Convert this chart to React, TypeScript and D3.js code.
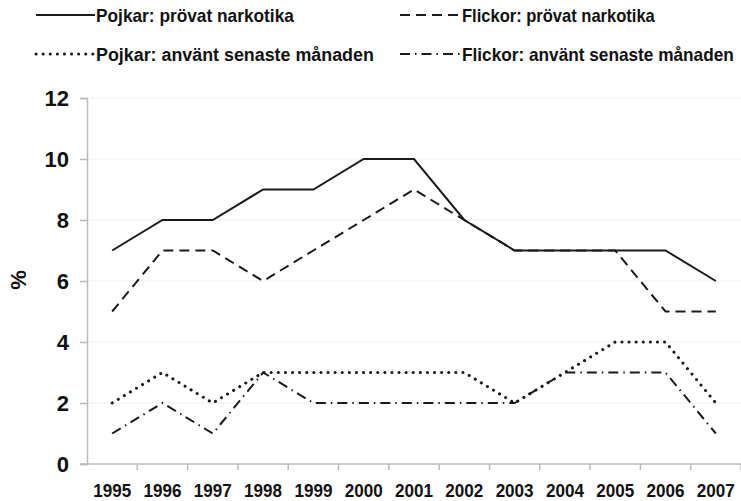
import React, { useRef, useEffect } from 'react';
import * as d3 from 'd3';

const years = ['1995', '1996', '1997', '1998', '1999', '2000', '2001', '2002', '2003', '2004', '2005', '2006', '2007'];
const pojkarProvat = [7, 8, 8, 9, 9, 10, 10, 8, 7, 7, 7, 7, 6];
const flickorProvat = [5, 7, 7, 6, 7, 8, 9, 8, 7, 7, 7, 5, 5];
const pojkarAnvant = [2, 3, 2, 3, 3, 3, 3, 3, 2, 3, 4, 4, 2];
const flickorAnvant = [1, 2, 1, 3, 2, 2, 2, 2, 2, 3, 3, 3, 1];
const yTicks = [0, 2, 4, 6, 8, 10, 12];

const seriesNames = [
  'Pojkar: prövat narkotika',
  'Flickor: prövat narkotika',
  'Pojkar: använt senaste månaden',
  'Flickor: använt senaste månaden',
];

const App: React.FC = () => {
  const svgRef = useRef<SVGSVGElement | null>(null);

  useEffect(() => {
    if (!svgRef.current) return;
    const width = 741;
    const height = 501;
    const left = 87;
    const right = 741;
    const top = 98;
    const bottom = 464;

    const svg = d3.select(svgRef.current);
    svg.selectAll('*').remove();
    svg.attr('width', width).attr('height', height);

    const font = 'Liberation Sans, Arial, sans-serif';

    // line styles for each series
    const styles = [
      { dash: null, cap: 'butt', w: 2 },
      { dash: '10,6', cap: 'butt', w: 2 },
      { dash: '0.1,7', cap: 'round', w: 3 },
      { dash: '10,5,1.5,5', cap: 'butt', w: 2 },
    ];

    const x = d3.scaleBand<string>().domain(years).range([left, right]);
    const y = d3.scaleLinear().domain([0, 12]).range([bottom, top]);

    // squeeze a text horizontally to a given width (the source font is narrow)
    const squeeze = (sel: d3.Selection<SVGTextElement, any, any, any>, tx: number, ty: number, w: number) => {
      sel.each(function () {
        const natural = (this as SVGTextElement).getComputedTextLength();
        const sx = natural > 0 ? w / natural : 1;
        d3.select(this).attr('transform', `translate(${tx},${ty}) scale(${sx},1)`);
      });
    };

    // faint gridlines
    svg.append('g')
      .selectAll('line')
      .data(yTicks.filter(d => d > 0))
      .enter()
      .append('line')
      .attr('x1', left)
      .attr('x2', right)
      .attr('y1', d => y(d))
      .attr('y2', d => y(d))
      .attr('stroke', '#efefef')
      .attr('stroke-width', 1);

    // y axis
    const yAxis = svg.append('g')
      .attr('transform', `translate(${left},0)`)
      .call(d3.axisLeft(y).tickValues(yTicks).tickSize(7).tickPadding(11).tickFormat(d3.format('d')));
    yAxis.select('.domain').attr('stroke', '#bbbbbb').attr('stroke-width', 1.5);
    yAxis.selectAll('.tick line').attr('stroke', '#bbbbbb').attr('stroke-width', 1.5);
    yAxis.selectAll('.tick text')
      .attr('fill', '#111')
      .style('font-family', font)
      .style('font-size', '22px')
      .style('font-weight', 'bold');

    // x axis, ticks on category boundaries
    const xAxisG = svg.append('g');
    xAxisG.append('line')
      .attr('x1', left - 7)
      .attr('x2', right)
      .attr('y1', bottom)
      .attr('y2', bottom)
      .attr('stroke', '#bbbbbb')
      .attr('stroke-width', 1.5);
    xAxisG.selectAll('line.tk')
      .data(years)
      .enter()
      .append('line')
      .attr('class', 'tk')
      .attr('x1', d => (x(d) as number) + x.bandwidth())
      .attr('x2', d => (x(d) as number) + x.bandwidth())
      .attr('y1', bottom)
      .attr('y2', bottom + 6)
      .attr('stroke', '#bbbbbb')
      .attr('stroke-width', 1.5);
    xAxisG.selectAll('text')
      .data(years)
      .enter()
      .append('text')
      .attr('text-anchor', 'middle')
      .attr('fill', '#111')
      .style('font-family', font)
      .style('font-size', '18px')
      .style('font-weight', 'bold')
      .text(d => d)
      .each(function (d) {
        const t = d3.select(this as SVGTextElement);
        squeeze(t, (x(d) as number) + x.bandwidth() / 2, 497, 38);
      });

    // y title
    svg.append('text')
      .attr('transform', 'translate(26,280) rotate(-90)')
      .attr('text-anchor', 'middle')
      .attr('fill', '#111')
      .style('font-family', font)
      .style('font-size', '22px')
      .style('font-weight', 'bold')
      .text('%');

    // lines
    const allSeries = [pojkarProvat, flickorProvat, pojkarAnvant, flickorAnvant];
    const line = d3.line<number>()
      .x((_, i) => (x(years[i]) as number) + x.bandwidth() / 2)
      .y(d => y(d));

    allSeries.forEach((vals, i) => {
      const p = svg.append('path')
        .datum(vals)
        .attr('d', line)
        .attr('fill', 'none')
        .attr('stroke', '#1a1a1a')
        .attr('stroke-width', styles[i].w)
        .attr('stroke-linecap', styles[i].cap)
        .attr('stroke-linejoin', 'miter');
      if (styles[i].dash) p.attr('stroke-dasharray', styles[i].dash as string);
    });

    // legend
    const legendPos = [
      { x1: 36, x2: 95, tx: 96, ty: 22, w: 198 },
      { x1: 400, x2: 461, tx: 462, ty: 22, w: 193 },
      { x1: 36, x2: 95, tx: 96, ty: 61, w: 278 },
      { x1: 400, x2: 461, tx: 462, ty: 61, w: 272 },
    ];
    const legend = svg.append('g');
    seriesNames.forEach((name, i) => {
      const lp = legendPos[i];
      const l = legend.append('line')
        .attr('x1', lp.x1)
        .attr('x2', lp.x2)
        .attr('y1', lp.ty - 7)
        .attr('y2', lp.ty - 7)
        .attr('stroke', '#1a1a1a')
        .attr('stroke-width', styles[i].w)
        .attr('stroke-linecap', styles[i].cap);
      if (styles[i].dash) l.attr('stroke-dasharray', styles[i].dash as string);
      const t = legend.append('text')
        .attr('fill', '#111')
        .style('font-family', font)
        .style('font-size', '18px')
        .style('font-weight', 'bold')
        .text(name);
      squeeze(t, lp.tx, lp.ty, lp.w);
    });
  }, []);

  return (
    <div style={{ position: 'absolute', left: 0, top: 0 }}>
      <svg ref={svgRef} style={{ display: 'block', background: '#fff' }}></svg>
    </div>
  );
};

export default App;
